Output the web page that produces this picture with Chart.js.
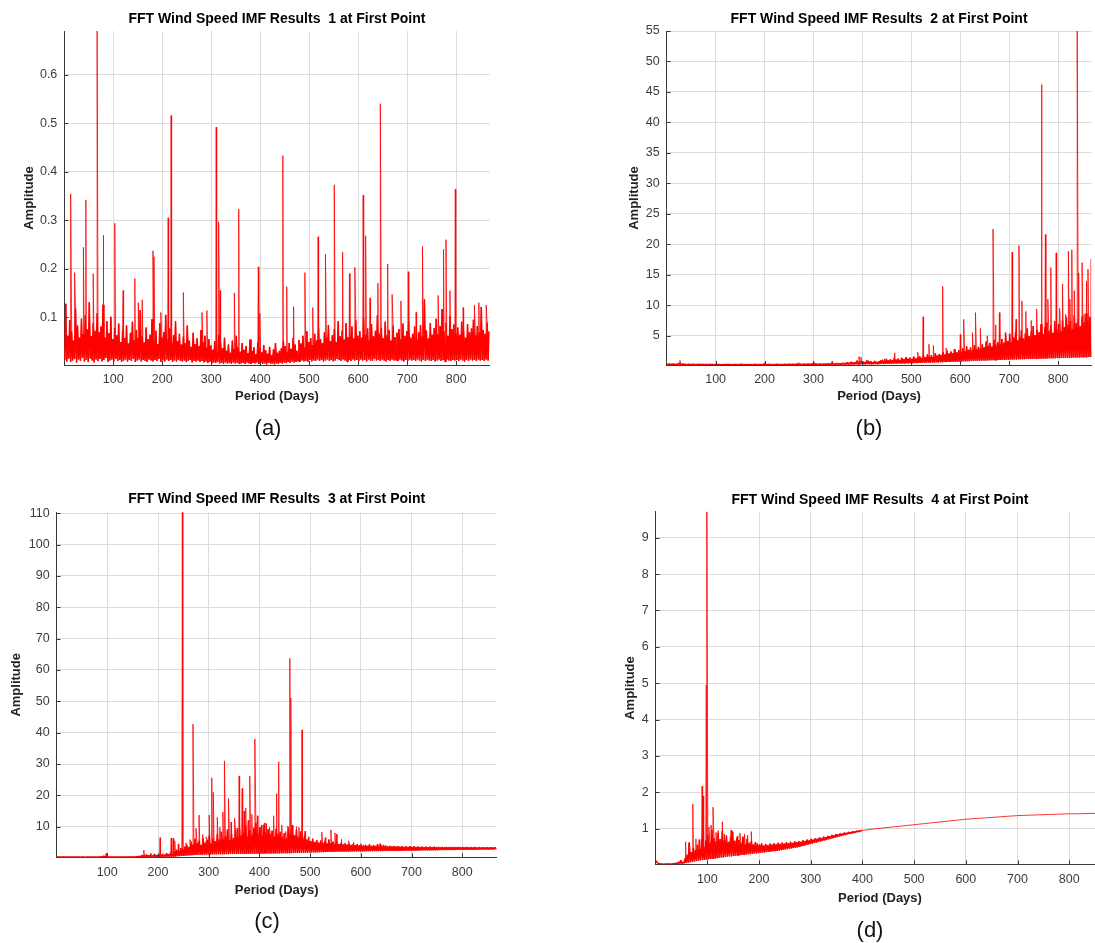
<!DOCTYPE html>
<html>
<head>
<meta charset="utf-8">
<title>FFT Wind Speed IMF Results</title>
<script src="https://cdn.jsdelivr.net/npm/chart.js@4.4.1/dist/chart.umd.min.js"></script>
<style>
  html, body { margin: 0; padding: 0; background: #fff; width: 1095px; height: 943px; overflow: hidden; position: relative; }
  canvas { position: absolute; }
  .cap { position: absolute; font: 22px 'Liberation Sans', Arial, sans-serif; color: #111; transform: translate(-50%, -50%); white-space: nowrap; }
</style>
</head>
<body>
<canvas id="imf1" width="547" height="470" style="left:0px;top:0px"></canvas>
<canvas id="imf2" width="548" height="470" style="left:547px;top:0px"></canvas>
<canvas id="imf3" width="547" height="473" style="left:0px;top:470px"></canvas>
<canvas id="imf4" width="560" height="473" style="left:547px;top:470px"></canvas>
<div class="cap" style="left:268px;top:428px">(a)</div>
<div class="cap" style="left:869px;top:428px">(b)</div>
<div class="cap" style="left:267px;top:921px">(c)</div>
<div class="cap" style="left:870px;top:930px">(d)</div>
<script>
// ---- spectrum data -------------------------------------------------------
// Background amplitudes are sampled every PERIOD_STEP days from FIRST_PERIOD;
// isolated peaks are listed separately as [period, amplitude].
const FIRST_PERIOD = 1;
const PERIOD_STEP = 2;

const periodTicks = [100, 200, 300, 400, 500, 600, 700, 800];

// IMF 1
const imf1Ticks = [0.1, 0.2, 0.3, 0.4, 0.5, 0.6];
const imf1Noise = [
  0.012,0.128,0.009,0.062,0.015,0.094,0.008,0.071,0.011,0.052,0.014,0.118,0.007,0.083,0.013,0.058,0.010,0.097,0.016,0.066,
  0.009,0.104,0.012,0.075,0.008,0.131,0.015,0.061,0.011,0.088,0.007,0.072,0.013,0.109,0.010,0.069,0.014,0.081,0.009,0.126,
  0.012,0.058,0.016,0.092,0.008,0.067,0.011,0.101,0.013,0.055,0.009,0.078,0.014,0.063,0.010,0.087,0.012,0.049,0.008,0.072,
  0.011,0.057,0.013,0.083,0.009,0.046,0.012,0.068,0.010,0.091,0.014,0.052,0.008,0.074,0.011,0.058,0.013,0.115,0.009,0.061,
  0.012,0.048,0.010,0.079,0.008,0.055,0.013,0.064,0.011,0.096,0.009,0.051,0.012,0.072,0.010,0.045,0.014,0.088,0.008,0.059,
  0.011,0.069,0.009,0.105,0.013,0.054,0.010,0.077,0.012,0.048,0.008,0.063,0.011,0.092,0.009,0.051,0.012,0.066,0.010,0.044,
  0.009,0.061,0.011,0.047,0.008,0.083,0.010,0.052,0.012,0.039,0.007,0.068,0.010,0.045,0.009,0.057,0.011,0.041,0.008,0.074,
  0.010,0.049,0.007,0.062,0.009,0.038,0.006,0.055,0.008,0.042,0.005,0.033,0.007,0.051,0.006,0.029,0.008,0.064,0.005,0.047,
  0.006,0.036,0.004,0.058,0.007,0.031,0.005,0.044,0.006,0.027,0.004,0.052,0.007,0.035,0.005,0.062,0.006,0.038,0.004,0.029,
  0.005,0.047,0.006,0.033,0.004,0.041,0.007,0.026,0.005,0.054,0.004,0.031,0.006,0.038,0.005,0.024,0.007,0.049,0.004,0.035,
  0.006,0.028,0.004,0.043,0.005,0.032,0.003,0.025,0.006,0.039,0.004,0.022,0.005,0.034,0.003,0.047,0.005,0.027,0.004,0.031,
  0.006,0.036,0.005,0.052,0.007,0.041,0.006,0.029,0.008,0.047,0.006,0.035,0.009,0.058,0.007,0.044,0.008,0.031,0.010,0.053,
  0.008,0.046,0.011,0.062,0.009,0.038,0.010,0.071,0.008,0.049,0.012,0.057,0.009,0.043,0.011,0.066,0.010,0.052,0.013,0.078,
  0.010,0.055,0.012,0.047,0.009,0.069,0.011,0.058,0.013,0.084,0.010,0.051,0.012,0.063,0.009,0.076,0.011,0.049,0.014,0.092,
  0.012,0.061,0.010,0.073,0.013,0.054,0.011,0.088,0.009,0.059,0.012,0.067,0.010,0.081,0.013,0.056,0.011,0.094,0.012,0.062,
  0.010,0.071,0.013,0.058,0.011,0.099,0.012,0.064,0.009,0.077,0.013,0.053,0.011,0.086,0.010,0.061,0.014,0.072,0.011,0.104,
  0.012,0.066,0.010,0.079,0.013,0.057,0.011,0.091,0.009,0.063,0.012,0.074,0.010,0.052,0.013,0.083,0.011,0.059,0.012,0.068,
  0.010,0.076,0.013,0.055,0.011,0.087,0.009,0.062,0.012,0.071,0.010,0.093,0.013,0.058,0.011,0.066,0.012,0.081,0.010,0.054,
  0.013,0.069,0.011,0.084,0.009,0.061,0.012,0.137,0.010,0.073,0.013,0.056,0.011,0.088,0.010,0.064,0.012,0.078,0.009,0.097,
  0.011,0.065,0.013,0.082,0.010,0.117,0.012,0.071,0.009,0.089,0.013,0.062,0.011,0.102,0.010,0.076,0.012,0.085,0.011,0.068,
  0.012,0.079,0.010,0.064,0.013,0.091,0.011,0.072,0.009,0.058,0.012,0.086,0.010,0.069,0.013,0.077,0.011,0.095,0.012,0.063,
  0.010,0.082,0.013,0.069,0.011,0.121,0.012,0.074,0.010,0.066,0.013,0.089,0.011,0.071
];
const imf1Peaks = [
  [13,0.354],[21,0.192],[39,0.244],[44,0.342],[59,0.19],[67,0.69],[79,0.269],[103,0.294],[120,0.155],
  [144,0.18],[151,0.13],[159,0.136],[181,0.237],[183,0.225],[197,0.11],[212,0.305],[218,0.516],[243,0.151],
  [281,0.11],[291,0.114],[310,0.492],[315,0.297],[318,0.155],[347,0.15],[356,0.323],[396,0.204],[399,0.108],
  [446,0.433],[454,0.163],[468,0.122],[491,0.192],[507,0.12],[518,0.266],[533,0.23],[551,0.373],[568,0.234],
  [582,0.19],[593,0.203],[610,0.352],[615,0.268],[624,0.14],[640,0.17],[645,0.54],[660,0.21],[669,0.147],
  [687,0.134],[702,0.194],[718,0.11],[731,0.246],[763,0.145],[774,0.24],[779,0.26],[787,0.155],[798,0.364],
  [814,0.12],[837,0.125],[846,0.13],[861,0.125]
];

// IMF 2
const imf2Ticks = [5, 10, 15, 20, 25, 30, 35, 40, 45, 50, 55];
const imf2Noise = [
  0.35,0.28,0.41,0.26,0.33,0.24,0.38,0.29,0.31,0.25,0.36,0.27,0.52,0.30,0.34,0.26,0.39,0.28,0.32,0.25,
  0.30,0.24,0.35,0.27,0.29,0.23,0.33,0.26,0.31,0.24,0.28,0.23,0.34,0.27,0.30,0.25,0.32,0.24,0.29,0.26,
  0.31,0.24,0.28,0.23,0.33,0.25,0.30,0.24,0.27,0.23,0.36,0.25,0.29,0.24,0.31,0.23,0.28,0.25,0.30,0.24,
  0.27,0.23,0.32,0.25,0.29,0.24,0.30,0.23,0.28,0.24,0.31,0.25,0.27,0.23,0.29,0.24,0.33,0.25,0.28,0.23,
  0.30,0.24,0.27,0.23,0.31,0.25,0.28,0.24,0.29,0.23,0.32,0.25,0.27,0.24,0.30,0.23,0.28,0.24,0.35,0.26,
  0.31,0.24,0.28,0.23,0.33,0.25,0.29,0.24,0.27,0.23,0.30,0.25,0.34,0.24,0.28,0.23,0.31,0.25,0.29,0.24,
  0.33,0.25,0.29,0.24,0.36,0.26,0.31,0.25,0.34,0.24,0.30,0.26,0.38,0.25,0.32,0.24,0.35,0.27,0.31,0.25,
  0.37,0.26,0.33,0.25,0.40,0.27,0.35,0.26,0.38,0.25,0.34,0.27,0.42,0.26,0.36,0.25,0.39,0.28,0.35,0.26,
  0.41,0.27,0.37,0.26,0.45,0.28,0.39,0.27,0.48,0.29,0.40,0.27,0.44,0.28,0.51,0.30,0.43,0.28,0.47,0.29,
  0.55,0.30,0.49,0.29,0.62,0.31,0.53,0.30,0.71,0.32,0.58,0.31,0.66,0.33,0.92,0.34,0.75,0.32,0.84,0.35,
  0.78,0.33,0.69,0.32,0.95,0.36,0.72,0.34,0.81,0.33,0.64,0.35,0.88,0.37,0.70,0.34,0.79,0.36,0.93,0.38,
  1.05,0.39,0.86,0.37,1.21,0.41,0.94,0.40,1.12,0.43,0.99,0.41,1.34,0.45,1.08,0.43,1.25,0.46,1.02,0.44,
  1.31,0.47,1.15,0.45,1.48,0.49,1.22,0.48,1.39,0.51,1.18,0.49,1.56,0.53,1.29,0.51,1.44,0.54,1.67,0.56,
  1.38,0.55,1.72,0.58,1.46,0.57,1.95,0.61,1.58,0.59,1.83,0.63,1.51,0.61,2.12,0.65,1.76,0.63,1.98,0.67,
  1.85,0.66,2.31,0.69,1.94,0.68,2.56,0.72,2.08,0.70,2.42,0.74,2.17,0.72,2.78,0.76,2.26,0.75,2.63,0.79,
  2.35,0.77,2.94,0.81,2.48,0.80,3.25,0.84,2.71,0.82,3.08,0.86,2.59,0.85,3.46,0.89,2.83,0.87,3.17,0.91,
  2.96,0.90,3.58,0.93,3.12,0.92,4.05,0.96,3.37,0.94,3.82,0.98,3.21,0.97,4.36,1.01,3.55,0.99,3.94,1.03,
  3.72,1.02,4.48,1.05,3.86,1.04,4.95,1.08,4.12,1.06,5.34,1.10,3.98,1.09,4.71,1.12,5.62,1.11,4.27,1.14,
  4.88,1.13,5.95,1.16,4.54,1.15,5.41,1.18,6.23,1.17,4.96,1.20,5.73,1.19,6.58,1.22,5.12,1.21,6.04,1.24,
  5.58,1.23,6.87,1.26,5.31,1.25,6.42,1.28,7.15,1.27,5.86,1.30,6.71,1.29,5.49,1.32,7.38,1.31,6.16,1.34,
  6.93,1.33,5.77,1.36,7.62,1.35,6.38,1.38,8.04,1.37,6.85,1.40,7.41,1.39,6.12,1.42,8.36,1.41,7.05,1.44,
  7.78,1.43,6.54,1.46,8.21,1.45,7.26,1.48,8.67,1.47,7.49,1.50,8.12,1.52
];
const imf2Peaks = [
  [27,0.95],[200,0.55],[270,0.6],[300,0.65],[338,0.8],[372,0.6],[393,1.6],[397,1.5],[412,0.9],[445,1.2],
  [466,2.2],[479,1.4],[504,1.5],[513,2.3],[524,8.1],[536,3.6],[545,3.4],[564,13.1],[571,3.0],[587,2.8],
  [600,5.2],[607,7.7],[625,5.5],[631,8.8],[641,6.2],[655,5.0],[667,22.5],[672,6.8],[680,8.8],[692,5.5],
  [706,18.7],[714,7.7],[720,19.8],[726,10.7],[734,9.0],[745,7.5],[756,9.4],[766,46.2],[774,21.6],[779,11],
  [785,16.2],[796,18.6],[803,9.5],[809,13.5],[815,8.5],[821,18.9],[824,11],[828,19.1],[833,12.4],[839,55.2],
  [842,15.3],[849,17],[853,8.5],[857,14],[861,15.9],[867,17.6]
];

// IMF 3
const imf3Ticks = [10, 20, 30, 40, 50, 60, 70, 80, 90, 100, 110];
const imf3Noise = [
  0.31,0.26,0.35,0.27,0.33,0.25,0.38,0.28,0.32,0.26,0.36,0.27,0.30,0.25,0.34,0.28,0.31,0.26,0.37,0.27,
  0.33,0.26,0.30,0.25,0.35,0.27,0.32,0.26,0.29,0.25,0.34,0.27,0.31,0.26,0.36,0.28,0.32,0.25,0.30,0.27,
  0.34,0.26,0.38,0.28,0.45,0.29,0.62,0.31,0.48,0.28,0.36,0.27,0.33,0.26,0.35,0.28,0.31,0.26,0.34,0.27,
  0.30,0.26,0.33,0.27,0.36,0.28,0.31,0.26,0.35,0.27,0.38,0.29,0.34,0.27,0.41,0.28,0.37,0.27,0.44,0.30,
  0.52,0.31,0.68,0.33,0.95,0.35,0.74,0.34,1.12,0.37,0.86,0.36,1.05,0.39,0.78,0.37,1.26,0.40,0.92,0.38,
  1.15,0.41,0.88,0.40,1.32,0.43,1.06,0.42,1.54,0.45,1.21,0.44,1.78,0.47,1.39,0.46,2.05,0.52,2.64,0.58,
  2.35,0.61,3.18,0.66,2.74,0.70,3.62,0.75,4.15,0.81,3.47,0.86,5.24,0.92,4.38,0.95,6.12,1.01,4.86,1.04,
  5.57,1.08,4.23,1.10,6.35,1.13,4.92,1.12,5.86,1.16,7.24,1.18,4.65,1.17,6.48,1.20,5.31,1.19,7.82,1.22,
  5.94,1.21,8.37,1.24,6.15,1.23,7.06,1.26,9.12,1.25,5.78,1.28,7.64,1.27,6.42,1.30,8.85,1.29,6.97,1.31,
  9.46,1.32,7.28,1.31,8.14,1.34,10.25,1.33,6.83,1.36,8.92,1.35,7.51,1.38,9.68,1.37,11.34,1.40,8.06,1.39,
  9.87,1.42,7.35,1.41,10.62,1.44,8.24,1.43,9.15,1.46,7.68,1.45,8.73,1.48,6.94,1.47,9.41,1.50,7.82,1.49,
  8.36,1.52,6.75,1.51,7.94,1.54,6.28,1.53,9.62,1.56,8.15,1.58,10.48,1.60,7.36,1.62,9.04,1.64,6.87,1.66,
  8.42,1.68,6.54,1.70,7.25,1.72,5.86,1.74,6.63,1.76,5.42,1.78,6.18,1.80,5.15,1.82,5.74,1.84,4.96,1.86,
  5.58,1.88,4.82,1.90,5.36,1.92,4.67,1.94,5.91,1.96,4.75,1.98,5.24,2.00,4.58,2.01,5.12,2.02,4.49,2.03,
  4.86,2.05,4.37,2.06,4.72,2.07,4.28,2.08,4.61,2.09,4.19,2.10,4.53,2.11,4.12,2.12,4.44,2.13,4.06,2.14,
  4.31,2.15,3.97,2.16,4.24,2.17,3.92,2.18,4.38,2.19,3.88,2.20,4.16,2.21,3.85,2.22,4.47,2.23,3.91,2.24,
  4.05,2.25,3.78,2.26,3.96,2.27,3.72,2.28,3.89,2.29,3.68,2.30,3.84,2.31,3.65,2.32,3.79,2.33,3.62,2.34,
  3.75,2.35,3.58,2.36,3.71,2.37,3.56,2.38,3.83,2.39,3.54,2.40,3.69,2.41,3.52,2.42,3.66,2.43,3.51,2.44,
  3.64,2.45,3.49,2.46,3.62,2.47,3.48,2.48,3.60,2.49,3.47,2.50,3.58,2.51,3.46,2.52,3.57,2.53,3.45,2.54,
  3.56,2.55,3.44,2.56,3.55,2.57,3.43,2.58,3.54,2.59,3.42,2.60,3.53,2.61,3.41,2.62,3.52,2.63,3.40,2.64,
  3.51,2.65,3.39,2.66,3.50,2.67,3.38,2.68,3.49,2.69,3.37,2.70,3.48,2.71,3.36,2.72,3.47,2.73,3.35,2.74,
  3.46,2.75,3.34,2.76,3.45,2.77,3.33,2.78,3.44,2.79,3.32,2.80,3.43,2.81
];
const imf3Peaks = [
  [97,1.4],[99,1.6],[172,2.5],[186,1.6],[204,6.5],[226,6.4],[230,6.3],[233,5.5],[240,4.5],[248,110.3],
  [255,4.8],[263,5.9],[269,42.7],[275,9.5],[281,13.7],[288,7.5],[295,6.8],[301,13.7],[306,25.6],[309,21],
  [317,13],[322,9.8],[328,14.7],[331,31],[339,19],[344,11.5],[351,12.7],[356,9.6],[360,26.2],[366,22.2],
  [370,15],[373,16],[378,12],[381,26.2],[385,14],[391,38],[396,13.5],[404,10.5],[410,11.2],[414,11],
  [420,9.8],[428,13.5],[434,20.6],[438,30.7],[444,10.5],[452,8.5],[456,10.2],[460,63.7],[462,51],[466,9.5],
  [473,10],[478,9.8],[484,40.9],[490,8.6],[497,6.8],[523,8.3],[530,6.5],[541,9],[549,8],[552,7.6],
  [562,6],[576,5.5],[586,5],[600,4.6],[638,4.6],[645,4.3]
];

// IMF 4: noisy start, then a smooth rising trend sampled every 20 days from day 400
const imf4Ticks = [1, 2, 3, 4, 5, 6, 7, 8, 9];
const imf4Noise = [
  0.12,0.07,0.05,0.03,0.04,0.02,0.03,0.02,0.03,0.02,0.03,0.02,0.04,0.02,0.03,0.02,0.04,0.02,0.05,0.03,
  0.06,0.03,0.09,0.04,0.13,0.04,0.08,0.05,0.18,0.06,0.28,0.07,0.62,0.08,0.35,0.09,0.48,0.10,0.41,0.11,
  0.56,0.12,0.44,0.13,0.72,0.14,0.51,0.14,0.68,0.15,0.83,0.16,0.62,0.17,0.98,0.17,0.74,0.18,0.66,0.19,
  0.88,0.20,0.71,0.21,0.95,0.21,0.69,0.22,0.81,0.23,0.64,0.24,0.78,0.24,0.92,0.25,0.67,0.26,0.74,0.26,
  0.69,0.27,0.62,0.28,0.78,0.28,0.58,0.29,0.72,0.30,0.61,0.30,0.66,0.31,0.57,0.32,0.63,0.32,0.59,0.33,
  0.56,0.34,0.60,0.34,0.54,0.35,0.58,0.36,0.55,0.36,0.59,0.37,0.56,0.38,0.60,0.38,0.57,0.39,0.61,0.40,
  0.58,0.41,0.62,0.42,0.59,0.43,0.63,0.44,0.60,0.45,0.64,0.46,0.61,0.47,0.65,0.48,0.63,0.49,0.66,0.50,
  0.64,0.52,0.68,0.53,0.66,0.55,0.70,0.56,0.68,0.58,0.72,0.59,0.70,0.61,0.74,0.62,0.72,0.64,0.76,0.65,
  0.74,0.67,0.78,0.68,0.76,0.70,0.80,0.71,0.79,0.73,0.83,0.74,0.81,0.76,0.85,0.77,0.84,0.79,0.87,0.80,
  0.86,0.82,0.89,0.83,0.88,0.85,0.91,0.86,0.90,0.87,0.93,0.88,0.92,0.90,0.94,0.91,0.94,0.92,0.95,0.94
];
const imf4Peaks = [
  [58,0.64],[64,0.55],[72,1.68],[78,0.72],[84,0.7],[90,2.17],[92,1.9],[98,4.95],[99,9.72],[103,1.05],
  [107,1.1],[111,1.59],[117,0.9],[121,0.95],[129,1.19],[133,0.85],[146,0.96],[158,0.8],[163,0.88],
  [172,0.85],[178,0.82],[185,0.92]
];
const IMF4_TREND_START = 400;
const IMF4_TREND_STEP = 20;
const imf4Trend = [
  0.95,0.99,1.02,1.05,1.08,1.11,1.14,1.17,1.20,1.23,1.26,1.28,1.30,1.32,1.34,1.36,1.37,1.38,1.39,1.40,
  1.41,1.41,1.42,1.42,1.42
];

// ---- helpers -------------------------------------------------------------
function noisePoints(noise) {
  return noise.map((a, i) => ({ x: FIRST_PERIOD + i * PERIOD_STEP, y: a }));
}
function spectrum(noise, peaks, trend) {
  const pts = noisePoints(noise);
  peaks.forEach(([p, a]) => pts.push({ x: p, y: a }));
  if (trend) trend.values.forEach((a, i) => pts.push({ x: trend.start + i * trend.step, y: a }));
  return pts.sort((p, q) => p.x - q.x);
}

const FONT = "'Liberation Sans', Arial, Helvetica, sans-serif";
const AXIS_COLOR = '#3a3a3a';
const GRID_COLOR = '#dcdcdc';
const LINE_RED = '#ff0000';
const LABEL_LH = 13 * 1.2;

// Panel title plus MATLAB-style inward tick marks
const panelDecor = {
  id: 'panelDecor',
  afterDraw(chart, args, opts) {
    const { ctx, chartArea: { left, right, bottom }, scales: { x, y } } = chart;
    ctx.save();
    ctx.strokeStyle = AXIS_COLOR;
    ctx.lineWidth = 1;
    ctx.beginPath();
    x.ticks.forEach(t => {
      const px = Math.round(x.getPixelForValue(t.value)) + 0.5;
      ctx.moveTo(px, bottom); ctx.lineTo(px, bottom - 4);
    });
    y.ticks.forEach(t => {
      const py = Math.round(y.getPixelForValue(t.value)) + 0.5;
      ctx.moveTo(left, py); ctx.lineTo(left + 4, py);
    });
    ctx.stroke();
    ctx.fillStyle = '#000';
    ctx.font = 'bold 14px ' + FONT;
    ctx.textAlign = 'center';
    ctx.textBaseline = 'middle';
    ctx.fillText(opts.text, (left + right) / 2, opts.y);
    ctx.restore();
  }
};
Chart.register(panelDecor);

function makePanel(g, title, series, yMin, yMax, yTicks) {
  const yAxisW = g.left - g.ampX + LABEL_LH / 2;
  const xAxisH = g.periodY - g.bottom + LABEL_LH / 2;
  const pad = {
    left: g.left - g.x0 - yAxisW,
    top: g.top - g.y0,
    right: g.x0 + g.w - g.right,
    bottom: g.y0 + g.h - g.bottom - xAxisH
  };
  const tickFont = { family: FONT, size: 12.5 };
  const titleFont = { family: FONT, size: 13, weight: 'bold' };
  new Chart(document.getElementById(g.id), {
    type: 'line',
    data: {
      datasets: [
        // full spectrum, thin strokes for the isolated peaks
        { data: spectrum(series.noise, series.peaks, series.trend), borderColor: LINE_RED,
          borderWidth: 0.8, pointRadius: 0, tension: 0, fill: false, borderJoinStyle: 'bevel' },
        // dense background band, drawn heavier so it reads as a solid band
        { data: noisePoints(series.noise), borderColor: LINE_RED,
          borderWidth: 1.5, pointRadius: 0, tension: 0, fill: false, borderJoinStyle: 'bevel' }
      ]
    },
    options: {
      responsive: false,
      animation: false,
      events: [],
      parsing: false,
      layout: { padding: pad },
      plugins: {
        legend: { display: false },
        tooltip: { enabled: false },
        panelDecor: { text: title, y: g.titleY - g.y0 }
      },
      scales: {
        x: {
          type: 'linear', min: 0, max: 868,
          afterBuildTicks: s => { s.ticks = periodTicks.map(v => ({ value: v })); },
          afterFit: s => { s.height = xAxisH; },
          grid: { color: GRID_COLOR, drawTicks: false },
          border: { color: AXIS_COLOR, width: 1 },
          ticks: { font: tickFont, color: '#3c3c3c', padding: 7.5, maxRotation: 0, autoSkip: false, callback: v => String(v) },
          title: { display: true, text: 'Period (Days)', font: titleFont, color: '#222', padding: 0 }
        },
        y: {
          type: 'linear', min: yMin, max: yMax,
          afterBuildTicks: s => { s.ticks = yTicks.map(v => ({ value: v })); },
          afterFit: s => { s.width = yAxisW; },
          grid: { color: GRID_COLOR, drawTicks: false },
          border: { color: AXIS_COLOR, width: 1 },
          ticks: { font: tickFont, color: '#3c3c3c', padding: 7, autoSkip: false, callback: v => String(v) },
          title: { display: true, text: 'Amplitude', font: titleFont, color: '#222', padding: 0 }
        }
      }
    }
  });
}

// ---- layout (page pixels) ------------------------------------------------
const layoutA = { id: 'imf1', x0: 0,   y0: 0,   w: 547, h: 470, left: 64.3,  right: 489.6,  top: 31,    bottom: 365,   ampX: 29.3,  periodY: 396.7, titleY: 19 };
const layoutB = { id: 'imf2', x0: 547, y0: 0,   w: 548, h: 470, left: 666.7, right: 1091.4, top: 31,    bottom: 365,   ampX: 634.4, periodY: 396.7, titleY: 19 };
const layoutC = { id: 'imf3', x0: 0,   y0: 470, w: 547, h: 473, left: 56.6,  right: 496.7,  top: 512.3, bottom: 857.3, ampX: 16.7,  periodY: 890.7, titleY: 499.3 };
const layoutD = { id: 'imf4', x0: 547, y0: 470, w: 560, h: 473, left: 655.6, right: 1104.4, top: 511.7, bottom: 864.3, ampX: 630,   periodY: 898.3, titleY: 500 };

makePanel(layoutA, 'FFT Wind Speed IMF Results  1 at First Point',
  { noise: imf1Noise, peaks: imf1Peaks }, 0.0017, 0.69, imf1Ticks);
makePanel(layoutB, 'FFT Wind Speed IMF Results  2 at First Point',
  { noise: imf2Noise, peaks: imf2Peaks }, 0.2, 55, imf2Ticks);
makePanel(layoutC, 'FFT Wind Speed IMF Results  3 at First Point',
  { noise: imf3Noise, peaks: imf3Peaks }, 0.24, 110.3, imf3Ticks);
makePanel(layoutD, 'FFT Wind Speed IMF Results  4 at First Point',
  { noise: imf4Noise, peaks: imf4Peaks, trend: { start: IMF4_TREND_START, step: IMF4_TREND_STEP, values: imf4Trend } },
  0.021, 9.715, imf4Ticks);
</script>
</body>
</html>
